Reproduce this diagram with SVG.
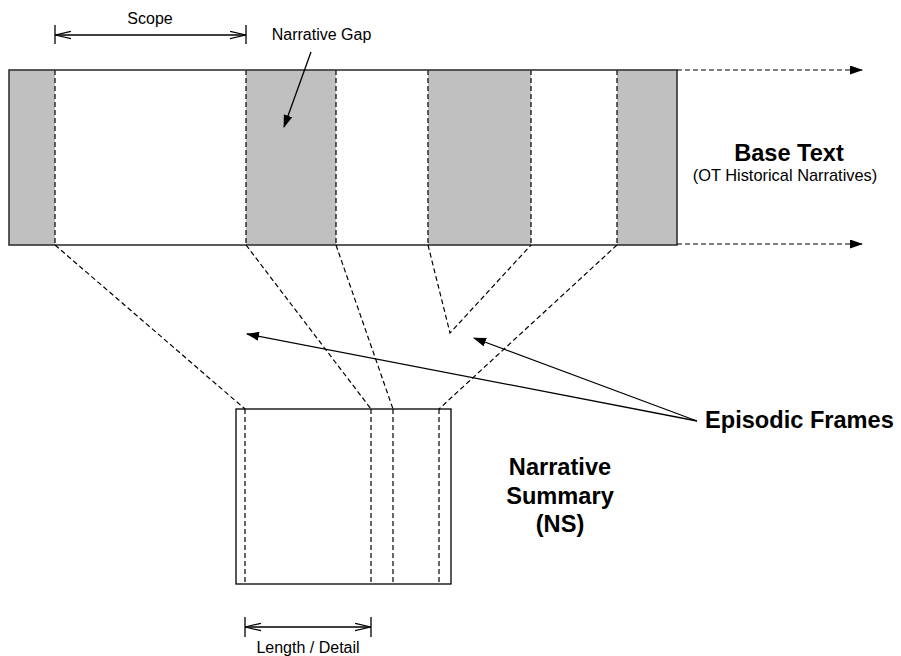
<svg xmlns="http://www.w3.org/2000/svg" width="901" height="656" viewBox="0 0 901 656">
<style>
.dash{fill:none;stroke:#000;stroke-width:1.2;stroke-dasharray:5,3}
.solid{fill:none;stroke:#000;stroke-width:1.3}
.gray{fill:#c0c0c0;stroke:none}
.frame{fill:none;stroke:#333;stroke-width:1.6}
.small{font-family:"Liberation Sans",Arial,sans-serif;font-size:16px;fill:#000}
.big{font-family:"Liberation Sans",Arial,sans-serif;font-size:23.6px;font-weight:bold;fill:#000}
</style>
<defs>
<marker id="fh" viewBox="0 0 13 9" refX="12" refY="4.5" markerWidth="13" markerHeight="9" markerUnits="userSpaceOnUse" orient="auto">
<path d="M0,0 L13,4.5 L0,9 z" fill="#000"/>
</marker>
<marker id="oh" viewBox="0 0 17 9" refX="16.5" refY="4.5" markerWidth="17" markerHeight="9" markerUnits="userSpaceOnUse" orient="auto-start-reverse">
<path d="M0.5,0.8 L16.5,4.5 L0.5,8.2" fill="none" stroke="#000" stroke-width="1.2"/>
</marker>
</defs>
<rect width="901" height="656" fill="#fff"/>

<g id="base-text">
<rect class="gray" x="9" y="70" width="46" height="175"/>
<rect class="gray" x="246" y="70" width="90" height="175"/>
<rect class="gray" x="428" y="70" width="103" height="175"/>
<rect class="gray" x="617" y="70" width="60" height="175"/>
<line class="dash" x1="55" y1="70" x2="55" y2="245"/>
<line class="dash" x1="246" y1="70" x2="246" y2="245"/>
<line class="dash" x1="336" y1="70" x2="336" y2="245"/>
<line class="dash" x1="428" y1="70" x2="428" y2="245"/>
<line class="dash" x1="531" y1="70" x2="531" y2="245"/>
<line class="dash" x1="617" y1="70" x2="617" y2="245"/>
<rect class="frame" x="9" y="70" width="668" height="175"/>
<text class="big" x="789" y="161" text-anchor="middle">Base Text</text>
<text class="small" x="785" y="181" text-anchor="middle" style="font-size:16.4px">(OT Historical Narratives)</text>
</g>

<g id="narrative-summary">
<rect x="236" y="409" width="215" height="175" fill="none" stroke="#000" stroke-width="1.3"/>
<line class="dash" x1="245" y1="409" x2="245" y2="584"/>
<line class="dash" x1="371" y1="409" x2="371" y2="584"/>
<line class="dash" x1="393" y1="409" x2="393" y2="584"/>
<line class="dash" x1="439" y1="409" x2="439" y2="584"/>
<text class="big" x="560" y="475" text-anchor="middle">Narrative</text>
<text class="big" x="560" y="503.5" text-anchor="middle">Summary</text>
<text class="big" x="560" y="532" text-anchor="middle">(NS)</text>
</g>

<g id="scope">
<line class="solid" x1="55" y1="25" x2="55" y2="44"/>
<line class="solid" x1="246" y1="25" x2="246" y2="44"/>
<line class="solid" x1="55" y1="35" x2="246" y2="35" marker-start="url(#oh)" marker-end="url(#oh)"/>
<text class="small" x="150" y="24" text-anchor="middle">Scope</text>
</g>

<g id="narrative-gap">
<text class="small" x="321.5" y="40" text-anchor="middle">Narrative Gap</text>
</g>

<g id="length-detail">
<line class="solid" x1="245" y1="617" x2="245" y2="637"/>
<line class="solid" x1="371" y1="617" x2="371" y2="637"/>
<line class="solid" x1="245" y1="627" x2="371" y2="627" marker-start="url(#oh)" marker-end="url(#oh)"/>
<text class="small" x="308" y="653" text-anchor="middle">Length / Detail</text>
</g>

<g id="episodic-frames">
<text class="big" x="705" y="428">Episodic Frames</text>
</g>

<g id="connectors">
<line class="dash" x1="677" y1="70" x2="862" y2="70" marker-end="url(#fh)"/>
<line class="dash" x1="677" y1="244" x2="862" y2="244" marker-end="url(#fh)"/>
<line class="dash" x1="55" y1="245" x2="245" y2="409"/>
<line class="dash" x1="246" y1="245" x2="371" y2="409"/>
<line class="dash" x1="336" y1="245" x2="393" y2="409"/>
<line class="dash" x1="617" y1="245" x2="439" y2="409"/>
<polyline class="dash" points="428,245 450,333 531,245"/>
<line class="solid" x1="311" y1="52" x2="284" y2="127" marker-end="url(#fh)"/>
<line class="solid" x1="697" y1="421" x2="247" y2="334" marker-end="url(#fh)"/>
<line class="solid" x1="697" y1="421" x2="474" y2="338" marker-end="url(#fh)"/>
</g>
</svg>
